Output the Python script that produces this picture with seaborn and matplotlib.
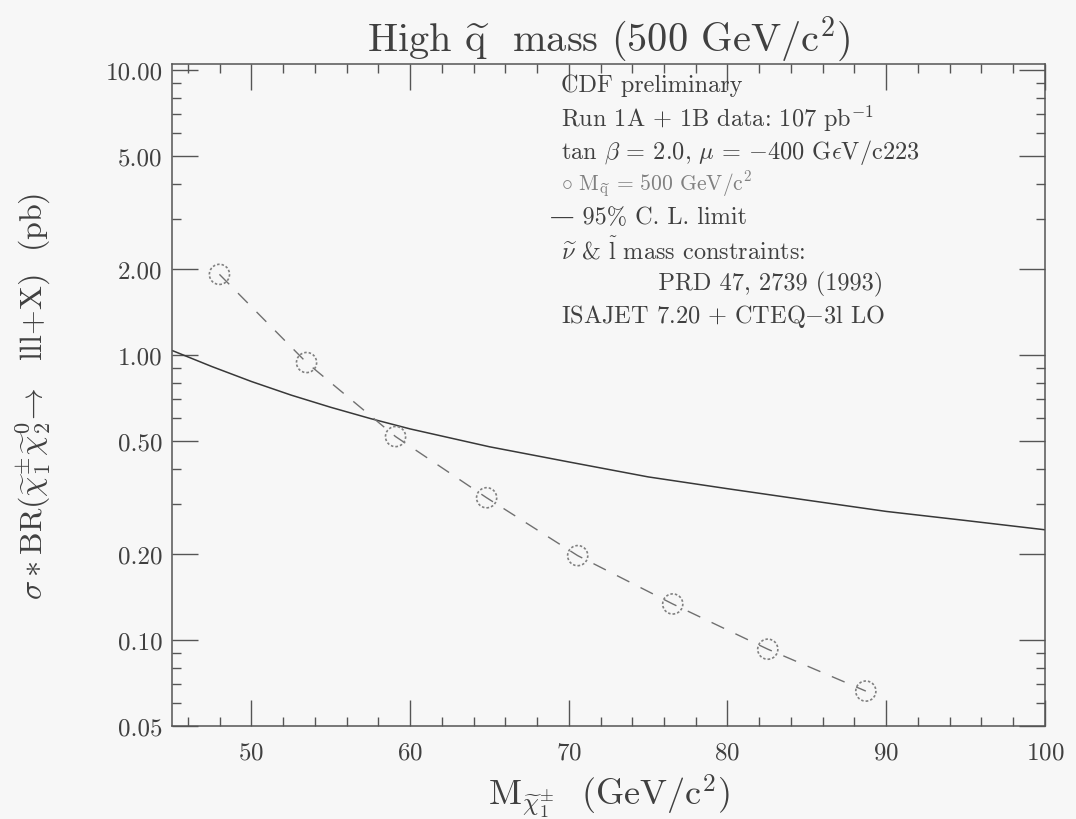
import numpy as np
import pandas as pd
import matplotlib
matplotlib.use('Agg')
import matplotlib.pyplot as plt
import seaborn as sns
from matplotlib.ticker import FixedLocator, MultipleLocator, LogLocator, NullFormatter

# chargino mass points (GeV/c^2) and sigma*BR (pb), squark mass 500 GeV/c^2
chargino_mass = [47.98, 53.47, 59.08, 64.82, 70.56, 76.55, 82.54, 88.72]
sigma_br = [1.92, 0.942, 0.518, 0.316, 0.198, 0.134, 0.093, 0.0663]

# 95% C.L. limit curve
limit_mass = [45.0, 47.5, 50.0, 52.5, 55.0, 57.5, 60.0, 65.0, 70.0, 75.0, 80.0, 85.0, 90.0, 95.0, 100.0]
limit_sigma = [1.038, 0.912, 0.808, 0.724, 0.656, 0.599, 0.551, 0.477, 0.422, 0.374,
               0.340, 0.310, 0.283, 0.263, 0.244]

y_ticks = [0.05, 0.1, 0.2, 0.5, 1.0, 2.0, 5.0, 10.0]
y_ticklabels = ['0.05', '0.10', '0.20', '0.50', '1.00', '2.00', '5.00', '10.00']

note_lines = [
    'CDF preliminary',
    r'Run 1A + 1B data: 107 pb$^{-1}$',
    r'tan $\beta$ = 2.0, $\mu$ = $-$400 G$\epsilon$V/c223',
    r'$\circ$ M$_{\widetilde{\rm q}}$ = 500 GeV/c$^2$',
    '\u2014 95% C. L. limit',
    r'$\widetilde{\nu}$ & $\widetilde{\rm l}$ mass constraints:',
    '            PRD 47, 2739 (1993)',
    'ISAJET 7.20 + CTEQ$-$3l LO',
]

sns.set_theme(style='ticks')
plt.rcParams['font.family'] = ['cmr10', 'DejaVu Serif']
plt.rcParams['mathtext.fontset'] = 'cm'
plt.rcParams['axes.formatter.use_mathtext'] = True
ink = '#404040'
bg = '#f7f7f7'

fig = plt.figure(figsize=(10.76, 8.2), dpi=100, facecolor=bg)
ax = fig.add_axes([0.160, 0.1134, 0.811, 0.8073], facecolor=bg)

df_pts = pd.DataFrame({'mass': chargino_mass, 'sigma': sigma_br})
df_lim = pd.DataFrame({'mass': limit_mass, 'sigma': limit_sigma})

sns.lineplot(data=df_lim, x='mass', y='sigma', color='#383838', lw=1.1, ax=ax)
sns.lineplot(data=df_pts, x='mass', y='sigma', color='#707070', lw=1.0, ax=ax,
             dashes=False, linestyle=(0, (10, 9)))
sns.scatterplot(data=df_pts, x='mass', y='sigma', s=210, facecolor='none',
                edgecolor='#808080', linewidth=1.2, linestyle=(0, (1.5, 1.2)), ax=ax, zorder=3)

ax.set_yscale('log')
ax.set_xlim(45, 100)
ax.set_ylim(0.05, 10.5)
ax.yaxis.set_major_locator(FixedLocator(y_ticks))
ax.set_yticklabels(y_ticklabels)
ax.yaxis.set_minor_locator(LogLocator(base=10, subs=np.arange(2, 10)))
ax.yaxis.set_minor_formatter(NullFormatter())
ax.xaxis.set_major_locator(MultipleLocator(10))
ax.xaxis.set_minor_locator(MultipleLocator(2))

ax.tick_params(which='both', direction='in', top=True, right=True, colors='#555555',
               labelsize=18, labelcolor=ink)
ax.tick_params(which='major', length=19, width=1.0)
ax.tick_params(which='minor', length=6.5, width=1.0)
ax.tick_params(axis='x', which='major', pad=11)
ax.tick_params(axis='y', which='major', pad=7)
for s in ax.spines.values():
    s.set_color('#555555')
    s.set_linewidth(1.1)

ax.set_xlabel(r'M$_{\widetilde{\chi}^{\pm}_1}$  (GeV/c$^2$)', fontsize=26, color=ink, labelpad=6)
ax.set_ylabel(r'$\sigma\ast$BR$(\widetilde{\chi}^{\pm}_1\widetilde{\chi}^0_2\!\rightarrow$  lll+X)  (pb)',
              fontsize=23, color=ink, labelpad=38)
ax.set_title(r'High $\widetilde{\rm q}$  mass (500 GeV/c$^2$)', fontsize=29, color=ink, pad=10)

y0 = 0.968
for i, line in enumerate(note_lines):
    fs = 15.5 if i == 3 else 17.5
    col = '#808080' if i == 3 else ink
    x0 = 0.433 if i == 4 else 0.446
    ax.text(x0, y0 - i * 0.0498, line, transform=ax.transAxes, fontsize=fs,
            color=col, va='center', ha='left')

fig.savefig('out.png', dpi=100, facecolor=bg)
